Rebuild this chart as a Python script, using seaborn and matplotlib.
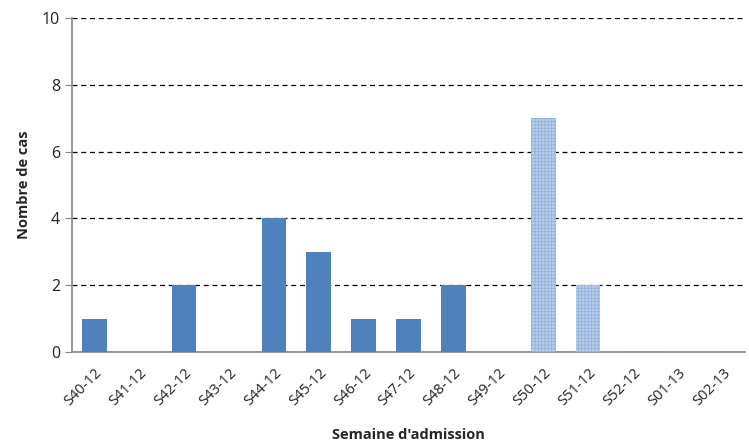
import matplotlib
matplotlib.use('Agg')
import matplotlib.pyplot as plt
import seaborn as sns
import pandas as pd

semaines = ['S40-12', 'S41-12', 'S42-12', 'S43-12', 'S44-12', 'S45-12', 'S46-12',
            'S47-12', 'S48-12', 'S49-12', 'S50-12', 'S51-12', 'S52-12', 'S01-13', 'S02-13']
nb_cas = [1, 0, 2, 0, 4, 3, 1, 1, 2, 0, 7, 2, 0, 0, 0]
provisoire = ['S50-12', 'S51-12']

df = pd.DataFrame({'semaine': semaines, 'cas': nb_cas})

sns.set_style('white')
plt.rcParams['font.family'] = ['Open Sans', 'DejaVu Sans']
plt.rcParams['hatch.color'] = '#8fb0dc'
plt.rcParams['hatch.linewidth'] = 0.5

fig = plt.figure(figsize=(7.49, 4.41), dpi=100)
ax = fig.add_axes([0.096, 0.202, 0.899, 0.757])

sns.barplot(data=df, x='semaine', y='cas', color='#4f81bd', saturation=1,
            width=0.55, linewidth=0, ax=ax, zorder=3)

for patch, s, v in zip(ax.patches, semaines, nb_cas):
    if v == 0:
        patch.set_visible(False)
    if s in provisoire:
        patch.set_facecolor('#b8cce8')
        patch.set_hatch('+++++')
        patch.set_edgecolor('#8fb0dc')
        patch.set_linewidth(0)

ax.set_ylim(0, 10)
ax.set_yticks(range(0, 11, 2))
ax.set_xlim(-0.5, len(semaines) - 0.5)
ax.yaxis.grid(True, color='black', linestyle=(0, (4, 3)), linewidth=0.9)
ax.set_axisbelow(True)

for side in ['top', 'right']:
    ax.spines[side].set_visible(False)
for side in ['left', 'bottom']:
    ax.spines[side].set_color('#868686')
    ax.spines[side].set_linewidth(1.2)

ax.tick_params(axis='y', left=True, length=5, color='#868686', labelsize=11.5, colors='#222222')
ax.tick_params(axis='x', bottom=False, labelsize=10.5, colors='#222222', pad=6)
plt.setp(ax.get_xticklabels(), rotation=45, ha='right', rotation_mode='anchor')

ax.set_xlabel("Semaine d'admission", fontsize=10.5, fontweight='bold', labelpad=14)
ax.set_ylabel('Nombre de cas', fontsize=10.5, fontweight='bold', labelpad=8)

fig.savefig('out.png', dpi=100)
